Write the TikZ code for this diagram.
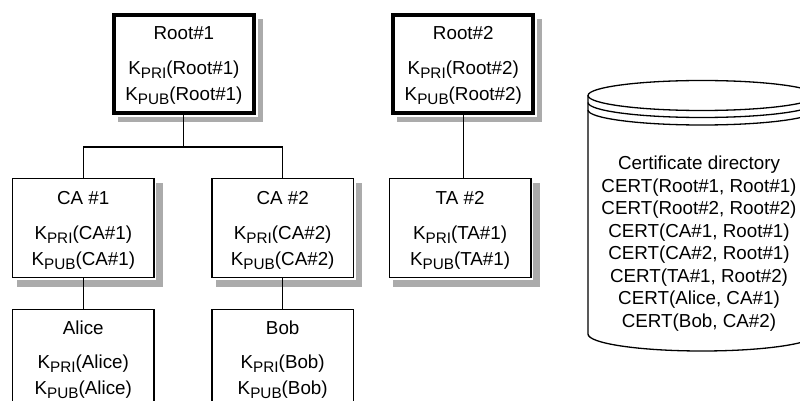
\documentclass[tikz,border=0pt]{standalone}
\usepackage{fontspec}
\setmainfont{Liberation Sans}
\usetikzlibrary{calc,backgrounds}
\definecolor{shadowgray}{gray}{0.67}
\newcommand{\subtxt}[1]{\raisebox{-4pt}{\fontsize{15.3}{16}\selectfont #1}}
\newcommand{\kpri}[1]{K\subtxt{PRI}(#1)}
\newcommand{\kpub}[1]{K\subtxt{PUB}(#1)}
% #1 node name, #2 title, #3 key name, #4/#5/#6 baseline offsets below path top
\newcommand{\boxtext}[6]{%
  \node[lbl] (#1-t) at ($(#1.north)+(0,#4)$) {#2};
  \node[lbl] (#1-a) at ($(#1.north)+(0,#5)$) {\kpri{#3}};
  \node[lbl] (#1-b) at ($(#1.north)+(0,#6)$) {\kpub{#3}};}
% #1 node name, #2 white gap from path
\newcommand{\shadowof}[2]{%
  \fill[shadowgray] ($(#1.north west)+(4,4)$) rectangle ($(#1.south east)+(9,9)$);
  \fill[white] ($(#1.north west)-(#2,#2)$) rectangle ($(#1.south east)+(#2,#2)$);}
\begin{document}
\begin{tikzpicture}[x=1pt,y=-1pt,
  box/.style={draw, fill=white, line width=1.3pt, minimum width=141.5pt,
    minimum height=99pt, inner sep=0pt, outer sep=0pt},
  rootbox/.style={box, line width=4pt, minimum width=140.3pt, minimum height=98.3pt},
  lbl/.style={anchor=base, inner sep=0pt, font=\fontsize{18.8}{20}\selectfont},
  wire/.style={line width=1.1pt},
  cyl/.style={line width=1.3pt}]
\useasboundingbox (0,0) rectangle (800,401);
\clip (0,0) rectangle (800,401);

% boxes
\node[rootbox] (r1) at (183.9,63.9) {};
\node[rootbox] (r2) at (463.3,63.9) {};
\node[box] (ca1) at (83.3,228) {};
\node[box] (ca2) at (282.7,228) {};
\node[box] (ta2) at (460.1,228) {};
\node[box] (alice) at (83.3,359) {};
\node[box] (bob) at (282.7,359) {};

\begin{scope}[on background layer]
  \fill[white] (0,0) rectangle (800,401);
  \shadowof{r1}{3.5}
  \shadowof{r2}{3.5}
  \shadowof{ca1}{2.2}
  \shadowof{ca2}{2.2}
  \shadowof{ta2}{2.2}
\end{scope}

\boxtext{r1}{Root\#1}{Root\#1}{25}{59.5}{85.5}
\boxtext{r2}{Root\#2}{Root\#2}{25}{59.5}{85.5}
\boxtext{ca1}{CA \#1}{CA\#1}{26}{61}{87}
\boxtext{ca2}{CA \#2}{CA\#2}{26}{61}{87}
\boxtext{ta2}{TA \#2}{TA\#1}{26}{61}{87}
\boxtext{alice}{Alice}{Alice}{24.5}{59}{84.5}
\boxtext{bob}{Bob}{Bob}{24.5}{59}{84.5}

% connectors
\coordinate (j1) at (183.9,147);
\draw[wire] (r1.south) -- (j1);
\draw[wire] (j1) -| (ca1.north);
\draw[wire] (j1) -| (ca2.north);
\draw[wire] (r2.south) -- (r2.south |- ta2.north);
\draw[wire] (ca1.south) -- (alice.north);
\draw[wire] (ca2.south) -- (bob.north);

% certificate directory cylinder
\draw[cyl] (588,95.5) -- (588,334)
  arc[start angle=180, end angle=0, x radius=114, y radius=17] -- (816,95.5);
\draw[cyl] (702,95.5) ellipse [x radius=114, y radius=15];
\draw[cyl] (588,102.5) arc[start angle=180, end angle=0, x radius=114, y radius=15];
\draw[cyl] (588,110) arc[start angle=180, end angle=0, x radius=114, y radius=15];

\node[lbl] (dir) at (699,169.5) {Certificate directory};
\node[lbl] (c1) at (699,192) {CERT(Root\#1, Root\#1)};
\node[lbl] (c2) at (699,214.5) {CERT(Root\#2, Root\#2)};
\node[lbl] (c3) at (699,237) {CERT(CA\#1, Root\#1)};
\node[lbl] (c4) at (699,259.5) {CERT(CA\#2, Root\#1)};
\node[lbl] (c5) at (699,282) {CERT(TA\#1, Root\#2)};
\node[lbl] (c6) at (699,304.5) {CERT(Alice, CA\#1)};
\node[lbl] (c7) at (699,327) {CERT(Bob, CA\#2)};
\end{tikzpicture}
\end{document}
